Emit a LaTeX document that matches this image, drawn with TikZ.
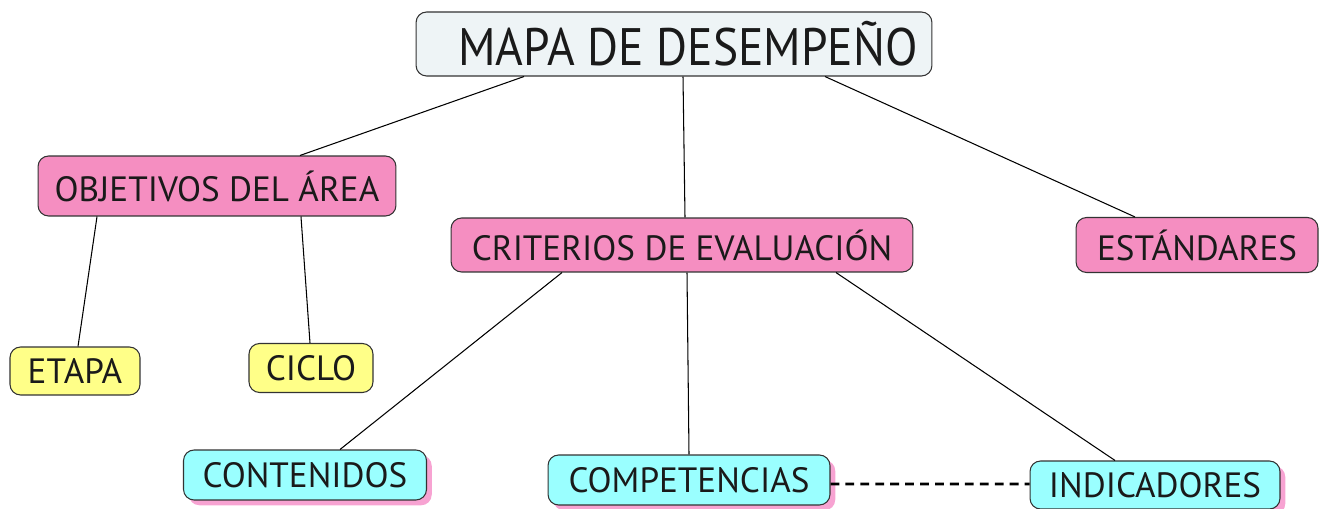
\documentclass[tikz,border=0pt]{standalone}
\usepackage{fontspec}
\setmainfont{PT Sans}
\newfontfamily\titlefont[FakeStretch=0.9]{PT Sans}
\usetikzlibrary{shadows}

\definecolor{titlefill}{HTML}{EEF4F6}
\definecolor{rosa}{HTML}{F58EC1}
\definecolor{amarillo}{HTML}{FFFF88}
\definecolor{celeste}{HTML}{9AFFFF}
\definecolor{sombra}{HTML}{F7A3D2}
\definecolor{texto}{HTML}{1A1A1A}

\tikzset{
  box/.style={draw=black!80, line width=0.6pt, rounded corners=6pt, inner sep=0pt,
    text=texto, font=\fontsize{20}{24}\selectfont},
  pinkbox/.style={box, fill=rosa},
  yellowbox/.style={box, fill=amarillo},
  cyanbox/.style={box, fill=celeste,
    drop shadow={fill=sombra, opacity=1, shadow xshift=3pt, shadow yshift=-3pt}},
}

\begin{document}
\begin{tikzpicture}[x=0.02cm, y=-0.02cm, every edge/.style={draw, line width=0.6pt}]
	\useasboundingbox (0,0) rectangle (1328,509);
	\node[box,fill=titlefill,minimum width=10.32cm,minimum height=1.28cm,
	      font=\titlefont\fontsize{30}{34}\selectfont] (mapa) at (674, 44) {\hspace*{0.56cm}MAPA DE DESEMPEÑO};
	\node[pinkbox,minimum width=7.16cm,minimum height=1.2cm]   (objetivos)   at (217, 186)  {OBJETIVOS DEL ÁREA};
	\node[pinkbox,minimum width=9.24cm,minimum height=1.08cm]  (criterios)   at (682, 245)  {CRITERIOS DE EVALUACIÓN};
	\node[pinkbox,minimum width=4.84cm,minimum height=1.1cm]   (estandares)  at (1197, 245) {ESTÁNDARES};
	\node[yellowbox,minimum width=2.6cm,minimum height=0.96cm] (etapa)       at (75, 371)   {ETAPA};
	\node[yellowbox,minimum width=2.48cm,minimum height=0.98cm] (ciclo)      at (311, 368)  {CICLO};
	\node[cyanbox,minimum width=4.86cm,minimum height=1cm]     (contenidos)  at (305, 475)  {CONTENIDOS};
	\node[cyanbox,minimum width=5.64cm,minimum height=1cm]     (competencias) at (689, 480) {COMPETENCIAS};
	\node[cyanbox,minimum width=5cm,minimum height=0.96cm]     (indicadores) at (1155, 485) {INDICADORES};
    \path[-] ([xshift=-3cm]mapa.south) edge ([xshift=1.66cm]objetivos.north);
    \path[-] ([xshift=0.18cm]mapa.south) edge ([xshift=0.06cm]criterios.north);
    \path[-] ([xshift=3.02cm]mapa.south) edge ([xshift=-1.24cm]estandares.north);
    \path[-] ([xshift=-2.4cm]objetivos.south) edge ([xshift=0.06cm]etapa.north);
    \path[-] ([xshift=1.68cm]objetivos.south) edge ([xshift=-0.02cm]ciclo.north);
    \path[-] ([xshift=-2.4cm]criterios.south) edge ([xshift=0.7cm]contenidos.north);
    \path[-] ([xshift=0.1cm]criterios.south) edge (competencias.north);
    \path[-] ([xshift=3.08cm]criterios.south) edge ([xshift=-0.8cm]indicadores.north);
    \draw[line width=1.5pt, dash pattern=on 5pt off 3.5pt] ([yshift=-0.08cm]competencias.east) -- ([yshift=0.02cm]indicadores.west);
\end{tikzpicture}
\end{document}
